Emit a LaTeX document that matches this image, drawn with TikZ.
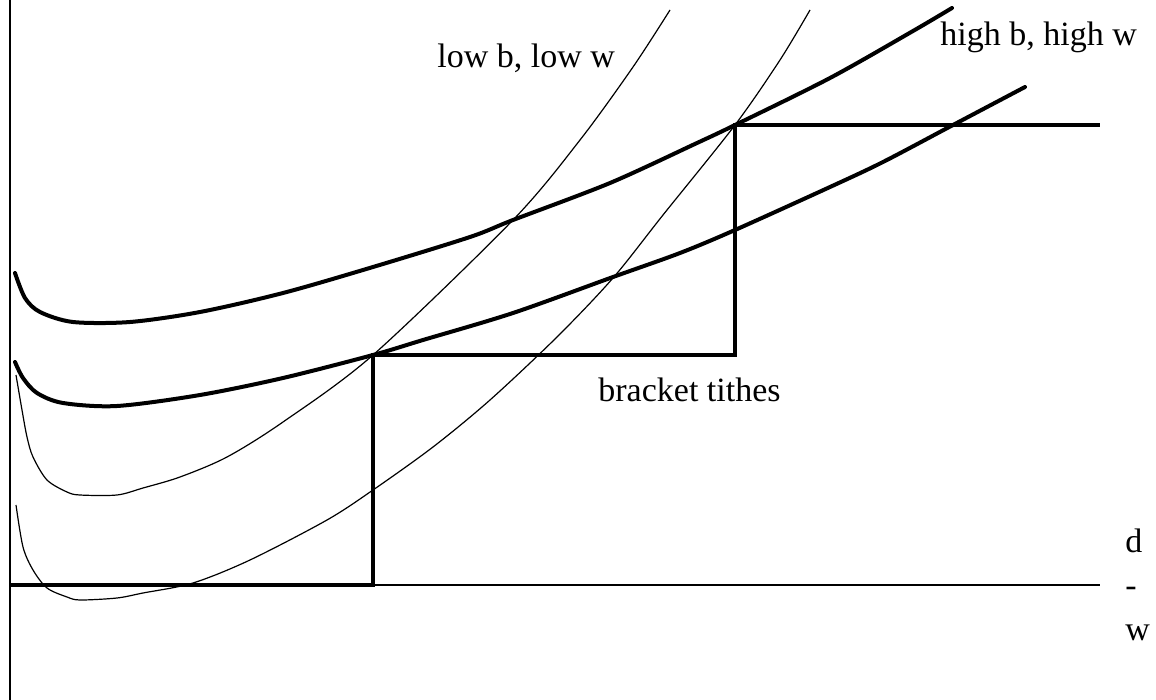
\documentclass[tikz,border=0pt]{standalone}
\usepackage{fontspec}
\setmainfont{Liberation Serif}
\usepackage{tikz}
\usetikzlibrary{positioning}

\begin{document}
\begin{tikzpicture}[x=0.5pt,y=-0.5pt,
  axisline/.style={draw=black,line width=1pt},
  boldcurve/.style={draw=black,line width=2pt,line cap=round,line join=round},
  thincurve/.style={draw=black,line width=0.6pt},
  stepline/.style={draw=black,line width=1.7pt,line join=miter},
  lbl/.style={font=\fontsize{17}{20}\selectfont,inner sep=0pt,anchor=base west}
]
\useasboundingbox (0,0) rectangle (1156,700);
\coordinate (origin) at (10,585);
\coordinate (ytop) at (10,0);
\coordinate (ybot) at (10,700);
\coordinate (xend) at (1100,585);
\coordinate (lowcorner) at (373,585);
\coordinate (midcorner) at (373,355);
\coordinate (midend) at (735,355);
\coordinate (highcorner) at (735,125);
\coordinate (highend) at (1100,125);
\draw[axisline] (ytop) -- (ybot);
\draw[axisline,line width=0.7pt] (origin) -- (xend);
\draw[stepline] (origin) -- (lowcorner) -- (midcorner) -- (midend) -- (highcorner) -- (highend);
\draw[boldcurve] plot[smooth] coordinates {(15,273) (25,298) (40,312) (73,322) (130,322) (200,312) (283,293) (373,267) (470,237) (513,220) (610,183) (697,143) (735,125) (830,78) (913,31) (952,8)};
\draw[boldcurve] plot[smooth] coordinates {(15,362) (23,378) (37,393) (63,403) (117,406) (200,395) (283,378) (373,355) (423,340) (513,313) (613,277) (680,253) (735,230) (830,187) (883,162) (953,125) (1025,87)};
\draw[thincurve] plot[smooth] coordinates {(16,375) (22,410) (27,437) (33,457) (47,480) (67,492) (80,495) (117,495) (143,488) (180,477) (227,457) (283,422) (373,355) (513,220) (580,140) (633,67) (670,10)};
\draw[thincurve] plot[smooth] coordinates {(16,505) (23,547) (33,570) (47,588) (67,597) (80,600) (117,598) (143,593) (193,583) (250,560) (327,520) (373,490) (433,447) (490,400) (557,337) (613,278) (663,215) (735,125) (780,60) (810,10)};
\node[lbl] (lowlbl) at (437,68) {low b, low w};
\node[lbl] (highlbl) at (940,46) {high b, high w};
\node[lbl] (bracketlbl) at (598,401) {bracket tithes};
\node[lbl] (dlbl) at (1125,552) {d};
\node[lbl] (dashlbl) at (1125,596) {-};
\node[lbl] (wlbl) at (1125,640) {w};
\end{tikzpicture}
\end{document}
